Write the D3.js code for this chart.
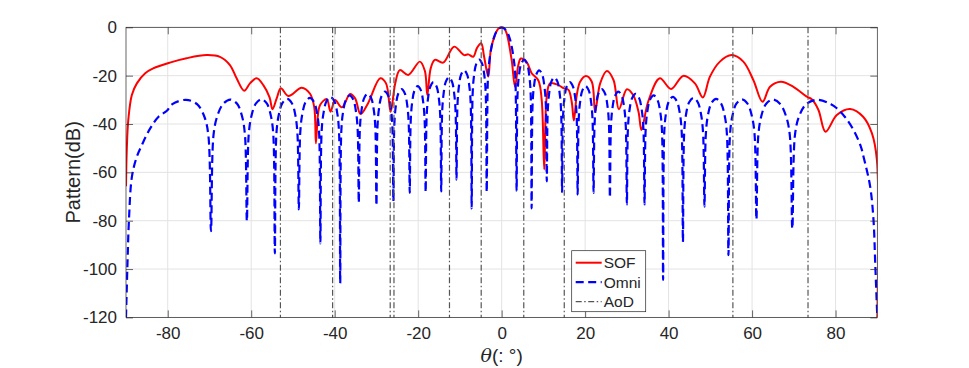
<!DOCTYPE html>
<html>
<head>
<meta charset="utf-8">
<script src="https://cdnjs.cloudflare.com/ajax/libs/d3/7.8.5/d3.min.js"></script>
<style>
  body { margin: 0; background: #fff; }
  svg text { font-family: "Liberation Sans", Arial, Helvetica, sans-serif; fill: #262626; }
</style>
</head>
<body>
<div id="chart"></div>
<script>
// angles (deg) of the AoD markers
const aodAngles = [-53.0, -40.5, -26.7, -25.8, -12.5, -4.9, 5.3, 15.0, 55.4, 73.4];

// SOF beam pattern, [theta, dB]
const sofPattern = [
  [-90, -65.7], [-89.8, -50], [-89.45, -38.3], [-88.6, -28], [-87.4, -23.2], [-85.4, -19.0],
  [-83.5, -17.0], [-79.5, -14.6], [-75.5, -12.8], [-70.7, -11.5], [-67.5, -12.2], [-65.1, -15.6],
  [-63.5, -21.1], [-61.7, -26.2], [-60.3, -23.2], [-58.7, -21.1], [-57.1, -23.9], [-55.6, -29],
  [-54.9, -33.9], [-53.9, -29.4], [-52.9, -25.2], [-51.1, -28.4], [-47.9, -25.0], [-45.9, -27.5],
  [-44.9, -33], [-44.5, -48], [-44.0, -36], [-43.5, -32.1], [-41.9, -29.7], [-41.0, -34.9],
  [-39.9, -30.1], [-38.3, -33.1], [-36.3, -27.6], [-35.1, -29.4], [-33.8, -35.9], [-32.0, -31.4],
  [-29.1, -21.1], [-27.7, -23.2], [-26.6, -34.9], [-25.5, -23.2], [-24.4, -17.7], [-22.4, -19.7],
  [-19.6, -14.2], [-18.4, -18], [-17.8, -28.0], [-17.0, -17], [-16.0, -13.5], [-14.0, -14.6],
  [-11.4, -8.0], [-9.0, -11.5], [-8.0, -11.2], [-6.8, -12.2], [-5.9, -8.5], [-4.9, -6.6],
  [-4.2, -12.2], [-3.2, -20.4], [-2.6, -9.4], [-1.6, -3.2], [-0.8, -0.6], [0, 0], [0.6, -0.4],
  [1.2, -2.5], [2.4, -13.5], [3.2, -24.6], [4.0, -15.6], [4.6, -12.9], [6.0, -14.4], [7.2, -19.0],
  [8.8, -22.0], [9.6, -30.1], [10.2, -58.8], [10.8, -28.7], [11.6, -23.2], [13.6, -23.9],
  [14.8, -25.2], [16.0, -25.9], [16.8, -31], [17.3, -38.6], [18.0, -28], [18.8, -22.5],
  [20.2, -20.1], [21.6, -22.5], [22.4, -34.9], [23.6, -23.2], [25.2, -18.1], [26.8, -21.8],
  [28.1, -33.9], [30.0, -25.6], [31.5, -28.0], [32.8, -35], [33.5, -42.5], [35.1, -30.8],
  [37.9, -21.1], [40.6, -25.5], [43.5, -20.1], [46.3, -23.2], [48.2, -29.0], [49.9, -20.4],
  [52.3, -14.2], [55.1, -11.5], [57.9, -14.2], [60.3, -21.8], [62.5, -30.8], [64.3, -24.6],
  [66.9, -22.5], [69.9, -24.6], [73.1, -28.7], [74.3, -29.8], [75.9, -34.2], [77.6, -43.2],
  [80.3, -36.3], [83.5, -33.8], [86.6, -37.0], [88.7, -43.8], [89.9, -54.9], [90, -120]
];

// Omni beam pattern, [theta, dB]
const omniPattern = [
  [-90, -120], [-89.6, -95], [-89.3, -80], [-88.6, -62], [-87.5, -54], [-86.2, -48.7],
  [-84.2, -41.8], [-82.2, -37], [-80.2, -34.5], [-78.89, -31.8], [-75.64, -30.0], [-72.97, -31.8],
  [-71.24, -36.9], [-70.27, -44.6], [-69.64, -84.3],
  [-69.03, -44.5], [-68.14, -36.8], [-66.74, -31.7], [-64.99, -29.9], [-63.34, -31.7], [-62.2, -36.8], [-61.5, -44.5], [-61.04, -80.2],
  [-60.6, -44.4], [-59.95, -36.7], [-58.9, -31.6], [-57.53, -29.8], [-56.23, -31.6], [-55.28, -36.7], [-54.71, -44.4], [-54.34, -93.5],
  [-53.97, -44.2], [-53.43, -36.5], [-52.54, -31.4], [-51.38, -29.6], [-50.25, -31.4], [-49.41, -36.5], [-48.92, -44.2], [-48.59, -75.3],
  [-48.26, -43.8], [-47.78, -36.1], [-46.99, -31.0], [-45.95, -29.2], [-44.93, -31.0], [-44.17, -36.1], [-43.73, -43.8], [-43.43, -89.4],
  [-43.14, -43.4], [-42.7, -35.7], [-41.97, -30.6], [-41.01, -28.8], [-40.07, -30.6], [-39.37, -35.7], [-38.96, -43.4], [-38.68, -105.9],
  [-38.41, -42.8], [-38.0, -35.1], [-37.32, -30.0], [-36.42, -28.2], [-35.54, -30.0], [-34.88, -35.1], [-34.49, -42.8], [-34.23, -72.6],
  [-33.97, -42.1], [-33.58, -34.4], [-32.94, -29.3], [-32.09, -27.5], [-31.25, -29.3], [-30.62, -34.4], [-30.25, -42.1], [-30.0, -73.7],
  [-29.75, -41.2], [-29.38, -33.5], [-28.77, -28.4], [-27.95, -26.6], [-27.15, -28.4], [-26.54, -33.5], [-26.18, -41.2], [-25.94, -71.9],
  [-25.71, -40.2], [-25.35, -32.5], [-24.76, -27.4], [-23.97, -25.6], [-23.19, -27.4], [-22.6, -32.5], [-22.26, -40.2], [-22.02, -68.5],
  [-21.79, -38.9], [-21.45, -31.2], [-20.87, -26.1], [-20.11, -24.3], [-19.34, -26.1], [-18.78, -31.2], [-18.44, -38.9], [-18.21, -68.2],
  [-17.98, -37.3], [-17.65, -29.6], [-17.08, -24.5], [-16.33, -22.7], [-15.59, -24.5], [-15.03, -29.6], [-14.7, -37.3], [-14.48, -67.9],
  [-14.26, -35.3], [-13.92, -27.6], [-13.37, -22.5], [-12.64, -20.7], [-11.9, -22.5], [-11.36, -27.6], [-11.03, -35.3], [-10.81, -63.0],
  [-10.59, -32.4], [-10.26, -24.7], [-9.72, -19.6], [-8.99, -17.8], [-8.27, -19.6], [-7.72, -24.7], [-7.4, -32.4], [-7.18, -74.9],
  [-6.96, -28.0], [-6.64, -20.3], [-6.1, -15.2], [-5.38, -13.4], [-4.66, -15.2], [-4.12, -20.3], [-3.8, -28.0], [-3.58, -68.2],
  [-3.3, -21.5], [-3, -14.6], [-2, -5.0], [-1, -1.1], [0, 0], [1, -1.1], [2, -5.0], [3, -14.6], [3.3, -21.5], [3.58, -67.8],
  [3.8, -28.0], [4.12, -20.3], [4.66, -15.2], [5.38, -13.4], [6.1, -15.2], [6.64, -20.3], [6.96, -28.0], [7.18, -74.9],
  [7.4, -32.4], [7.72, -24.7], [8.27, -19.6], [8.99, -17.8], [9.72, -19.6], [10.26, -24.7], [10.59, -32.4], [10.81, -63.7],
  [11.03, -35.3], [11.36, -27.6], [11.9, -22.5], [12.64, -20.7], [13.37, -22.5], [13.92, -27.6], [14.26, -35.3], [14.48, -68.2],
  [14.7, -37.3], [15.03, -29.6], [15.59, -24.5], [16.33, -22.7], [17.08, -24.5], [17.65, -29.6], [17.98, -37.3], [18.21, -69.2],
  [18.44, -38.9], [18.78, -31.2], [19.34, -26.1], [20.11, -24.3], [20.87, -26.1], [21.45, -31.2], [21.79, -38.9], [22.02, -68.5],
  [22.26, -40.2], [22.6, -32.5], [23.19, -27.4], [23.97, -25.6], [24.76, -27.4], [25.35, -32.5], [25.71, -40.2], [25.94, -70.5],
  [26.18, -41.2], [26.54, -33.5], [27.15, -28.4], [27.95, -26.6], [28.77, -28.4], [29.38, -33.5], [29.75, -41.2], [30.0, -73.3],
  [30.25, -42.1], [30.62, -34.4], [31.25, -29.3], [32.09, -27.5], [32.94, -29.3], [33.58, -34.4], [33.97, -42.1], [34.23, -73.3],
  [34.49, -42.8], [34.88, -35.1], [35.54, -30.0], [36.42, -28.2], [37.32, -30.0], [38.0, -35.1], [38.41, -42.8], [38.68, -104.5],
  [38.96, -43.4], [39.37, -35.7], [40.07, -30.6], [41.01, -28.8], [41.97, -30.6], [42.7, -35.7], [43.14, -43.4], [43.43, -88.8],
  [43.73, -43.8], [44.17, -36.1], [44.93, -31.0], [45.95, -29.2], [46.99, -31.0], [47.78, -36.1], [48.26, -43.8], [48.59, -74.2],
  [48.92, -44.2], [49.41, -36.5], [50.25, -31.4], [51.38, -29.6], [52.54, -31.4], [53.43, -36.5], [53.97, -44.2], [54.34, -94.3],
  [54.71, -44.4], [55.28, -36.7], [56.23, -31.6], [57.53, -29.8], [58.9, -31.6], [59.95, -36.7], [60.6, -44.4], [61.04, -79.5],
  [61.5, -44.5], [62.2, -36.8], [63.34, -31.7], [64.99, -29.9], [66.74, -31.7], [68.14, -36.8], [69.03, -44.5], [69.64, -83.3],
  [70.27, -44.6], [71.24, -36.9], [72.97, -31.8], [75.64, -30.0], [78.89, -31.8], [80.3, -33.5], [82.2, -37], [84.3, -42.5],
  [86.0, -49], [86.7, -53.5], [88.3, -66], [89.1, -80], [89.5, -97.5], [90, -120]
];

const xTicks = [-80, -60, -40, -20, 0, 20, 40, 60, 80];
const yTicks = [-120, -100, -80, -60, -40, -20, 0];
const legendNames = ["SOF", "Omni", "AoD"];

const width = 969, height = 368;
const plotLeft = 126, plotRight = 877.3, plotTop = 27.3, plotBottom = 317.4;

const svg = d3.select("#chart").append("svg")
    .attr("width", width)
    .attr("height", height);

const x = d3.scaleLinear().domain([-90, 90]).range([plotLeft, plotRight]);
const y = d3.scaleLinear().domain([-120, 0]).range([plotBottom, plotTop]);

// grid
svg.append("g").selectAll("line")
    .data(xTicks)
    .enter().append("line")
    .attr("x1", d => x(d)).attr("x2", d => x(d))
    .attr("y1", plotTop).attr("y2", plotBottom)
    .attr("stroke", "#e3e3e3").attr("stroke-width", 1);
svg.append("g").selectAll("line")
    .data(yTicks)
    .enter().append("line")
    .attr("x1", plotLeft).attr("x2", plotRight)
    .attr("y1", d => y(d)).attr("y2", d => y(d))
    .attr("stroke", "#e3e3e3").attr("stroke-width", 1);

svg.append("clipPath").attr("id", "plotclip")
    .append("rect")
    .attr("x", plotLeft).attr("y", plotTop - 1)
    .attr("width", plotRight - plotLeft).attr("height", plotBottom - plotTop + 2);

const line = d3.line()
    .x(d => x(d[0]))
    .y(d => y(d[1]))
    .curve(d3.curveCatmullRom.alpha(0.5));

const plot = svg.append("g").attr("clip-path", "url(#plotclip)");

plot.append("path")
    .datum(sofPattern)
    .attr("d", line)
    .attr("fill", "none")
    .attr("stroke", "#ff0000")
    .attr("stroke-width", 2);

plot.append("path")
    .datum(omniPattern)
    .attr("d", line)
    .attr("fill", "none")
    .attr("stroke", "#0000ff")
    .attr("stroke-width", 2.2)
    .attr("stroke-dasharray", "8,4.5");

plot.selectAll(".aod")
    .data(aodAngles)
    .enter().append("line")
    .attr("class", "aod")
    .attr("x1", d => x(d)).attr("x2", d => x(d))
    .attr("y1", y(0)).attr("y2", y(-120))
    .attr("stroke", "#555555")
    .attr("stroke-width", 1.2)
    .attr("stroke-dasharray", "6,2.5,1.5,2.5");

// axes
const fmt = d => String(d);

const xAxis = svg.append("g")
    .attr("transform", `translate(0,${plotBottom})`)
    .call(d3.axisBottom(x).tickValues(xTicks).tickFormat(fmt).tickSizeInner(-7).tickSizeOuter(0).tickPadding(10));
svg.append("g")
    .attr("transform", `translate(0,${plotTop})`)
    .call(d3.axisTop(x).tickValues(xTicks).tickFormat("").tickSizeInner(-7).tickSizeOuter(0));
const yAxis = svg.append("g")
    .attr("transform", `translate(${plotLeft},0)`)
    .call(d3.axisLeft(y).tickValues(yTicks).tickFormat(fmt).tickSizeInner(-7).tickSizeOuter(0).tickPadding(9));
svg.append("g")
    .attr("transform", `translate(${plotRight},0)`)
    .call(d3.axisRight(y).tickValues(yTicks).tickFormat("").tickSizeInner(-7).tickSizeOuter(0));

svg.selectAll(".domain").remove();
svg.selectAll(".tick line").attr("stroke", "#262626").attr("stroke-width", 0.7);
xAxis.selectAll("text").attr("font-size", 17).attr("fill", "#262626");
yAxis.selectAll("text").attr("font-size", 17).attr("fill", "#262626");

svg.append("rect")
    .attr("x", plotLeft).attr("y", plotTop)
    .attr("width", plotRight - plotLeft).attr("height", plotBottom - plotTop)
    .attr("fill", "none")
    .attr("stroke", "#262626")
    .attr("stroke-width", 0.7);

// axis labels
const xl = svg.append("text")
    .attr("x", x(0))
    .attr("y", 362)
    .attr("text-anchor", "middle")
    .attr("font-size", 19);
xl.append("tspan").attr("font-style", "italic").attr("font-family", "'DejaVu Serif', serif").text("θ");
xl.append("tspan").text("(: °)");

svg.append("text")
    .attr("transform", `translate(80,${(plotTop + plotBottom) / 2}) rotate(-90)`)
    .attr("text-anchor", "middle")
    .attr("font-size", 20)
    .text("Pattern(dB)");

// legend
const lg = svg.append("g").attr("transform", "translate(571.7,250.7)");
lg.append("rect")
    .attr("width", 74).attr("height", 61)
    .attr("fill", "#fff")
    .attr("stroke", "#262626")
    .attr("stroke-width", 0.7);
const legendStyles = [
    { color: "#ff0000", dash: null, w: 2 },
    { color: "#0000ff", dash: "8,4.5", w: 2.2 },
    { color: "#555555", dash: "6,2.5,1.5,2.5", w: 1.2 }
];
legendNames.forEach((name, i) => {
    const yy = 12 + i * 19.5;
    lg.append("line")
        .attr("x1", 4).attr("x2", 30)
        .attr("y1", yy).attr("y2", yy)
        .attr("stroke", legendStyles[i].color)
        .attr("stroke-width", legendStyles[i].w)
        .attr("stroke-dasharray", legendStyles[i].dash);
    lg.append("text")
        .attr("x", 32)
        .attr("y", yy)
        .attr("dy", "0.35em")
        .attr("font-size", 15.5)
        .text(name);
});
</script>
</body>
</html>
